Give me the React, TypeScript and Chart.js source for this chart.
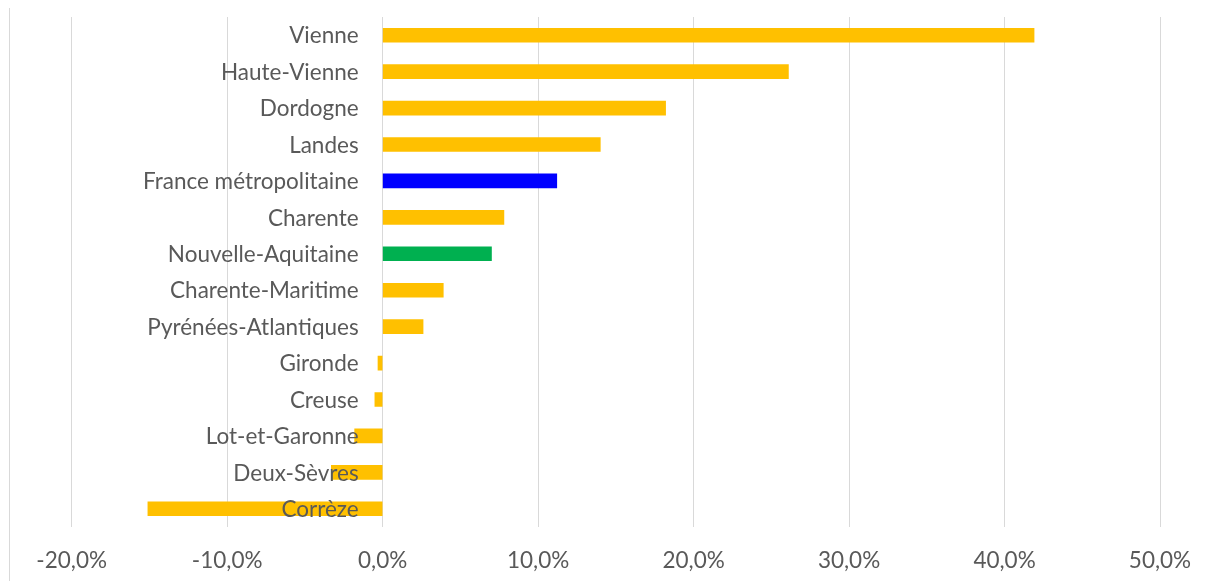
import React, { useEffect, useRef } from "react";
import { Chart, registerables } from "chart.js";

Chart.register(...registerables);

const categories = [
  "Vienne",
  "Haute-Vienne",
  "Dordogne",
  "Landes",
  "France métropolitaine",
  "Charente",
  "Nouvelle-Aquitaine",
  "Charente-Maritime",
  "Pyrénées-Atlantiques",
  "Gironde",
  "Creuse",
  "Lot-et-Garonne",
  "Deux-Sèvres",
  "Corrèze",
];

const values = [41.9, 26.1, 18.2, 14.0, 11.2, 7.8, 7.0, 3.9, 2.6, -0.3, -0.5, -1.8, -3.3, -15.1];

const barColors = [
  "#FFC000",
  "#FFC000",
  "#FFC000",
  "#FFC000",
  "#0000FF",
  "#FFC000",
  "#00B050",
  "#FFC000",
  "#FFC000",
  "#FFC000",
  "#FFC000",
  "#FFC000",
  "#FFC000",
  "#FFC000",
];

const xMin = -20;
const xMax = 50;
const xStep = 10;

const FONT = "Lato, 'Open Sans', sans-serif";
const FONT_SIZE = 22.5;
const TEXT = "#595959";

const leftLine = {
  id: "leftLine",
  beforeDraw(chart: any) {
    const ctx = chart.ctx;
    ctx.save();
    ctx.fillStyle = "#d9d9d9";
    ctx.fillRect(1, 0, 1, chart.height);
    ctx.restore();
  },
};

// Category labels placed next to the zero line (like Excel's "next to axis")
const zeroAxisLabels = {
  id: "zeroAxisLabels",
  afterDatasetsDraw(chart: any) {
    const ctx = chart.ctx;
    const xs = chart.scales.x;
    const ys = chart.scales.y;
    const x0 = xs.getPixelForValue(0) - 24;
    ctx.save();
    ctx.fillStyle = TEXT;
    ctx.font = `${FONT_SIZE}px ${FONT}`;
    ctx.textAlign = "right";
    ctx.textBaseline = "middle";
    chart.data.labels.forEach((lbl: string, i: number) => {
      ctx.fillText(lbl, x0, ys.getPixelForValue(i) + 1);
    });
    ctx.restore();
  },
};

export default function App() {
  const ref = useRef<HTMLCanvasElement | null>(null);

  useEffect(() => {
    if (!ref.current) return;
    const chart = new Chart(ref.current, {
      type: "bar",
      data: {
        labels: categories,
        datasets: [
          {
            data: values,
            backgroundColor: barColors,
            borderWidth: 0,
            barThickness: 14,
          },
        ],
      },
      plugins: [leftLine, zeroAxisLabels],
      options: {
        indexAxis: "y",
        animation: false,
        responsive: true,
        maintainAspectRatio: false,
        layout: { padding: { left: 63.7, right: 40, top: 9, bottom: 0 } },
        plugins: {
          legend: { display: false },
          tooltip: { enabled: false },
        },
        scales: {
          x: {
            min: xMin,
            max: xMax,
            grid: { color: "#d9d9d9", lineWidth: 1, drawTicks: false },
            border: { display: false },
            ticks: {
              stepSize: xStep,
              padding: 20,
              color: TEXT,
              font: { family: FONT, size: FONT_SIZE },
              callback: (v: any) => Number(v).toFixed(1).replace(".", ",") + "%",
            },
            afterFit: (s: any) => {
              s.height = 54;
              s.paddingLeft = 0;
              s.paddingRight = 0;
            },
          },
          y: {
            position: { x: 0 },
            grid: { display: false, drawTicks: false },
            border: { display: false },
            ticks: { display: false },
            afterFit: (s: any) => {
              s.paddingTop = 0;
              s.paddingBottom = 0;
            },
          },
        },
      },
    });
    return () => chart.destroy();
  }, []);

  return (
    <div style={{ position: "relative", height: "573px" }}>
      <canvas ref={ref} />
    </div>
  );
}
